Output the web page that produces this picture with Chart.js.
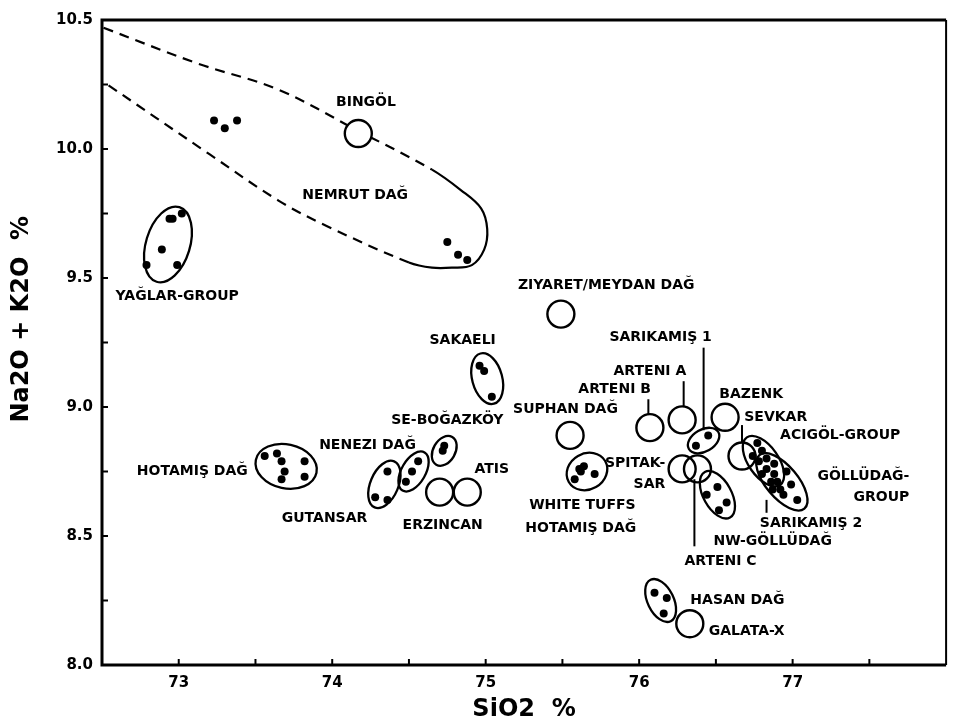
<!DOCTYPE html>
<html>
<head>
<meta charset="utf-8">
<script src="https://cdn.jsdelivr.net/npm/chart.js@4.4.0/dist/chart.umd.min.js"></script>
<style>
html, body { margin: 0; padding: 0; background: #fff; }
#wrap { width: 962px; height: 724px; }
</style>
</head>
<body>
<div id="wrap"><canvas id="tas" width="962" height="724"></canvas></div>
<script>
// SiO2 vs Na2O + K2O for the obsidian sources

const xLabelTicks = [73, 74, 75, 76, 77];
const yLabelTicks = [8.0, 8.5, 9.0, 9.5, 10.0, 10.5];

// single analyses (filled dots), [SiO2, Na2O+K2O]
const nemrutDots = [[73.23, 10.11], [73.30, 10.08], [73.38, 10.11], [74.75, 9.64], [74.82, 9.59], [74.88, 9.57]];
const yaglarDots = [[72.79, 9.55], [72.89, 9.61], [72.94, 9.73], [72.96, 9.73], [73.02, 9.75], [72.99, 9.55]];
const hotamisDots = [[73.56, 8.81], [73.64, 8.82], [73.67, 8.79], [73.69, 8.75], [73.67, 8.72], [73.82, 8.79], [73.82, 8.73]];
const sakaeliDots = [[74.96, 9.16], [74.99, 9.14], [75.04, 9.04]];
const bogazkoyDots = [[74.73, 8.85], [74.72, 8.83]];
const nenezDots = [[74.56, 8.79], [74.52, 8.75], [74.48, 8.71]];
const gutansarDots = [[74.36, 8.75], [74.28, 8.65], [74.36, 8.64]];
const whiteTuffDots = [[75.64, 8.77], [75.61, 8.76], [75.62, 8.75], [75.58, 8.72], [75.71, 8.74]];
const sarikamis1Dots = [[76.37, 8.85], [76.45, 8.89]];
const nwGolludagDots = [[76.51, 8.69], [76.44, 8.66], [76.57, 8.63], [76.52, 8.60]];
const acigolDots = [[76.77, 8.86], [76.80, 8.83], [76.74, 8.81], [76.78, 8.79], [76.83, 8.80]];
const golludagDots = [[76.88, 8.78], [76.83, 8.76], [76.80, 8.74], [76.88, 8.74], [76.96, 8.75], [76.86, 8.71],
  [76.90, 8.71], [76.99, 8.70], [76.87, 8.68], [76.92, 8.68], [76.94, 8.66], [77.03, 8.64]];
const hasanDots = [[76.10, 8.28], [76.18, 8.26], [76.16, 8.20]];

// mean values of sources (open circles)
const sourceNames = ['BINGÖL', 'ZIYARET/MEYDAN DAĞ', 'SUPHAN DAĞ', 'ERZINCAN', 'ATIS', 'ARTENI B', 'ARTENI A',
  'BAZENK', 'SPITAK-SAR', 'ARTENI C', 'SEVKAR', 'GALATA-X'];
const sourceSiO2 = [74.17, 75.49, 75.55, 74.70, 74.88, 76.07, 76.28, 76.56, 76.28, 76.38, 76.67, 76.33];
const sourceAlkali = [10.06, 9.36, 8.89, 8.67, 8.67, 8.92, 8.95, 8.96, 8.76, 8.76, 8.81, 8.16];

// Nemrut Dağ field boundary
const nemrutFieldSiO2 = [72.51, 73.13, 73.65, 74.17, 74.65, 74.84, 74.97, 75.01, 74.99, 74.91, 74.78, 74.65, 74.50, 73.97, 73.65, 73.20, 72.51];
const nemrutFieldAlkali = [10.47, 10.33, 10.23, 10.07, 9.92, 9.84, 9.77, 9.69, 9.61, 9.55, 9.54, 9.54, 9.56, 9.70, 9.80, 9.98, 10.26];

// group outlines: centre in data units, radii in px, rotation in degrees
const groupOutlines = [
  { x: 72.93, y: 9.63, rx: 39, ry: 22, rot: -73 },  // Yağlar
  { x: 73.70, y: 8.77, rx: 31, ry: 22, rot: 12 },   // Hotamış
  { x: 75.01, y: 9.11, rx: 26, ry: 15, rot: 75 },   // Sakaeli
  { x: 74.73, y: 8.83, rx: 16, ry: 11, rot: -60 },  // SE-Boğazköy
  { x: 74.53, y: 8.75, rx: 22, ry: 12, rot: -60 },  // Nenezi
  { x: 74.34, y: 8.70, rx: 25, ry: 14, rot: -67 },  // Gutansar
  { x: 75.66, y: 8.75, rx: 21, ry: 18, rot: -30 },  // White tuffs
  { x: 76.42, y: 8.87, rx: 17, ry: 11, rot: -30 },  // Sarıkamış 1
  { x: 76.51, y: 8.66, rx: 26, ry: 14, rot: 61 },   // NW-Göllüdağ
  { x: 76.81, y: 8.79, rx: 29, ry: 15, rot: 55 },   // Acıgöl
  { x: 76.93, y: 8.71, rx: 35, ry: 16, rot: 50 },   // Göllüdağ
  { x: 76.14, y: 8.25, rx: 23, ry: 13, rot: 64 }    // Hasan Dağ
];

const textLabels = [
  { text: 'BINGÖL', x: 74.22, y: 10.18, align: 'center' },
  { text: 'NEMRUT DAĞ', x: 74.15, y: 9.82, align: 'center' },
  { text: 'YAĞLAR-GROUP', x: 72.99, y: 9.43, align: 'center' },
  { text: 'ZIYARET/MEYDAN DAĞ', x: 75.21, y: 9.47, align: 'left' },
  { text: 'SAKAELI', x: 74.85, y: 9.26, align: 'center' },
  { text: 'SE-BOĞAZKÖY', x: 74.75, y: 8.95, align: 'center' },
  { text: 'NENEZI DAĞ', x: 74.23, y: 8.85, align: 'center' },
  { text: 'HOTAMIŞ DAĞ', x: 73.45, y: 8.75, align: 'right' },
  { text: 'GUTANSAR', x: 73.95, y: 8.57, align: 'center' },
  { text: 'ERZINCAN', x: 74.72, y: 8.54, align: 'center' },
  { text: 'ATIS', x: 75.04, y: 8.76, align: 'center' },
  { text: 'SUPHAN DAĞ', x: 75.52, y: 8.99, align: 'center' },
  { text: 'ARTENI B', x: 75.84, y: 9.07, align: 'center' },
  { text: 'ARTENI A', x: 76.07, y: 9.14, align: 'center' },
  { text: 'SARIKAMIŞ 1', x: 76.14, y: 9.27, align: 'center' },
  { text: 'BAZENK', x: 76.73, y: 9.05, align: 'center' },
  { text: 'SEVKAR', x: 76.89, y: 8.96, align: 'center' },
  { text: 'ACIGÖL-GROUP', x: 77.31, y: 8.89, align: 'center' },
  { text: 'GÖLLÜDAĞ-', x: 77.76, y: 8.73, align: 'right' },
  { text: 'GROUP', x: 77.76, y: 8.65, align: 'right' },
  { text: 'SPITAK-', x: 76.17, y: 8.78, align: 'right' },
  { text: 'SAR', x: 76.17, y: 8.70, align: 'right' },
  { text: 'WHITE TUFFS', x: 75.63, y: 8.62, align: 'center' },
  { text: 'HOTAMIŞ DAĞ', x: 75.62, y: 8.53, align: 'center' },
  { text: 'NW-GÖLLÜDAĞ', x: 76.87, y: 8.48, align: 'center' },
  { text: 'SARIKAMIŞ 2', x: 77.12, y: 8.55, align: 'center' },
  { text: 'ARTENI C', x: 76.53, y: 8.40, align: 'center' },
  { text: 'HASAN DAĞ', x: 76.64, y: 8.25, align: 'center' },
  { text: 'GALATA-X', x: 76.70, y: 8.13, align: 'center' }
];

// leader lines from labels to symbols: [x, yFrom, yTo]
const leaderLines = [
  [76.42, 9.23, 8.91],  // Sarıkamış 1
  [76.29, 9.10, 9.00],  // Arteni A
  [76.06, 9.03, 8.97],  // Arteni B
  [76.67, 8.93, 8.86],  // Sevkar
  [76.83, 8.64, 8.59],  // Sarıkamış 2
  [76.36, 8.72, 8.46]   // Arteni C
];

const labelFont = 'bold 14px "DejaVu Sans", sans-serif';
const yTitle = 'Na2O + K2O  %';

const toPoints = arr => arr.map(p => ({ x: p[0], y: p[1] }));

const allDots = [].concat(nemrutDots, yaglarDots, hotamisDots, sakaeliDots, bogazkoyDots, nenezDots,
  gutansarDots, whiteTuffDots, sarikamis1Dots, nwGolludagDots, acigolDots, golludagDots, hasanDots);

const annotationPlugin = {
  id: 'annotations',
  afterDatasetsDraw(chart) {
    const { ctx, scales: { x, y } } = chart;
    ctx.save();
    ctx.strokeStyle = '#000';
    ctx.lineWidth = 2.3;
    groupOutlines.forEach(g => {
      ctx.beginPath();
      ctx.ellipse(x.getPixelForValue(g.x), y.getPixelForValue(g.y), g.rx, g.ry, g.rot * Math.PI / 180, 0, Math.PI * 2);
      ctx.stroke();
    });
    ctx.lineWidth = 2;
    leaderLines.forEach(l => {
      const px = x.getPixelForValue(l[0]);
      ctx.beginPath();
      ctx.moveTo(px, y.getPixelForValue(l[1]));
      ctx.lineTo(px, y.getPixelForValue(l[2]));
      ctx.stroke();
    });
    ctx.fillStyle = '#000';
    ctx.font = labelFont;
    ctx.textBaseline = 'middle';
    textLabels.forEach(t => {
      ctx.textAlign = t.align;
      ctx.fillText(t.text, x.getPixelForValue(t.x), y.getPixelForValue(t.y));
    });
    ctx.restore();
  },
  afterDraw(chart) {
    const { ctx, chartArea: a, scales: { x, y } } = chart;
    ctx.save();
    ctx.strokeStyle = '#000';
    // frame
    ctx.lineWidth = 3;
    ctx.beginPath();
    ctx.moveTo(a.right, a.top);
    ctx.lineTo(a.left, a.top);
    ctx.lineTo(a.left, a.bottom);
    ctx.lineTo(a.right, a.bottom);
    ctx.stroke();
    ctx.lineWidth = 2;
    ctx.beginPath();
    ctx.moveTo(a.right, a.top);
    ctx.lineTo(a.right, a.bottom);
    ctx.stroke();
    // inward ticks
    x.ticks.forEach(t => {
      if (t.value <= x.min || t.value >= x.max) return;
      const px = x.getPixelForValue(t.value);
      ctx.beginPath();
      ctx.moveTo(px, a.bottom);
      ctx.lineTo(px, a.bottom - 6);
      ctx.stroke();
    });
    y.ticks.forEach(t => {
      if (t.value <= y.min || t.value >= y.max) return;
      const py = y.getPixelForValue(t.value);
      ctx.beginPath();
      ctx.moveTo(a.left, py);
      ctx.lineTo(a.left + 6, py);
      ctx.stroke();
    });
    // y axis title, sits a little above the middle like the original
    ctx.translate(22, a.top + (a.bottom - a.top) * 0.464);
    ctx.rotate(-Math.PI / 2);
    ctx.font = 'bold 24px "DejaVu Sans", sans-serif';
    ctx.fillStyle = '#000';
    ctx.textAlign = 'center';
    ctx.textBaseline = 'middle';
    ctx.fillText(yTitle, 0, 0);
    ctx.restore();
  }
};

Chart.defaults.font.family = '"DejaVu Sans", sans-serif';
Chart.defaults.color = '#000';

const solidFrom = 4, solidTo = 12;

new Chart(document.getElementById('tas'), {
  type: 'scatter',
  data: {
    datasets: [
      {
        label: 'Nemrut Dağ field',
        data: nemrutFieldSiO2.map((v, i) => ({ x: v, y: nemrutFieldAlkali[i] })),
        showLine: true,
        borderColor: '#000',
        borderWidth: 2.2,
        pointRadius: 0,
        tension: 0.35,
        segment: {
          borderDash: c => (c.p0DataIndex >= solidFrom && c.p1DataIndex <= solidTo) ? [] : [10, 7]
        },
        order: 3
      },
      {
        label: 'Sources',
        data: sourceSiO2.map((v, i) => ({ x: v, y: sourceAlkali[i], name: sourceNames[i] })),
        pointRadius: 13.5,
        pointBorderWidth: 2.4,
        pointBorderColor: '#000',
        // Bingöl sits on the Nemrut boundary, the line stops at its rim
        pointBackgroundColor: c => (c.raw && c.raw.name === 'BINGÖL') ? '#fff' : 'rgba(0,0,0,0)',
        order: 2
      },
      {
        label: 'Analyses',
        data: toPoints(allDots),
        pointRadius: 4,
        pointBorderWidth: 0,
        pointBackgroundColor: '#000',
        order: 1
      }
    ]
  },
  options: {
    responsive: false,
    animation: false,
    events: [],
    layout: { padding: { top: 20, right: 3, left: 0, bottom: 0 } },
    plugins: {
      legend: { display: false },
      tooltip: { enabled: false }
    },
    scales: {
      x: {
        type: 'linear',
        min: 72.5,
        max: 78,
        afterFit: s => { s.height = 59; s.paddingLeft = 0; s.paddingRight = 0; },
        border: { display: false },
        grid: { drawOnChartArea: false, drawTicks: false },
        ticks: {
          stepSize: 0.5,
          padding: 9,
          autoSkip: false,
          maxRotation: 0,
          font: { size: 15, weight: 'bold' },
          callback: v => xLabelTicks.includes(v) ? String(v) : ''
        },
        title: {
          display: true,
          text: 'SiO2  %',
          font: { size: 24, weight: 'bold' },
          padding: { top: 0, bottom: 0 }
        }
      },
      y: {
        type: 'linear',
        min: 8,
        max: 10.5,
        afterFit: s => { s.width = 102; },
        border: { display: false },
        grid: { drawOnChartArea: false, drawTicks: false },
        ticks: {
          stepSize: 0.25,
          padding: 9,
          autoSkip: false,
          font: { size: 15, weight: 'bold' },
          callback: v => yLabelTicks.some(t => Math.abs(t - v) < 1e-6) ? v.toFixed(1) : ''
        }
      }
    }
  },
  plugins: [annotationPlugin]
});
</script>
</body>
</html>
